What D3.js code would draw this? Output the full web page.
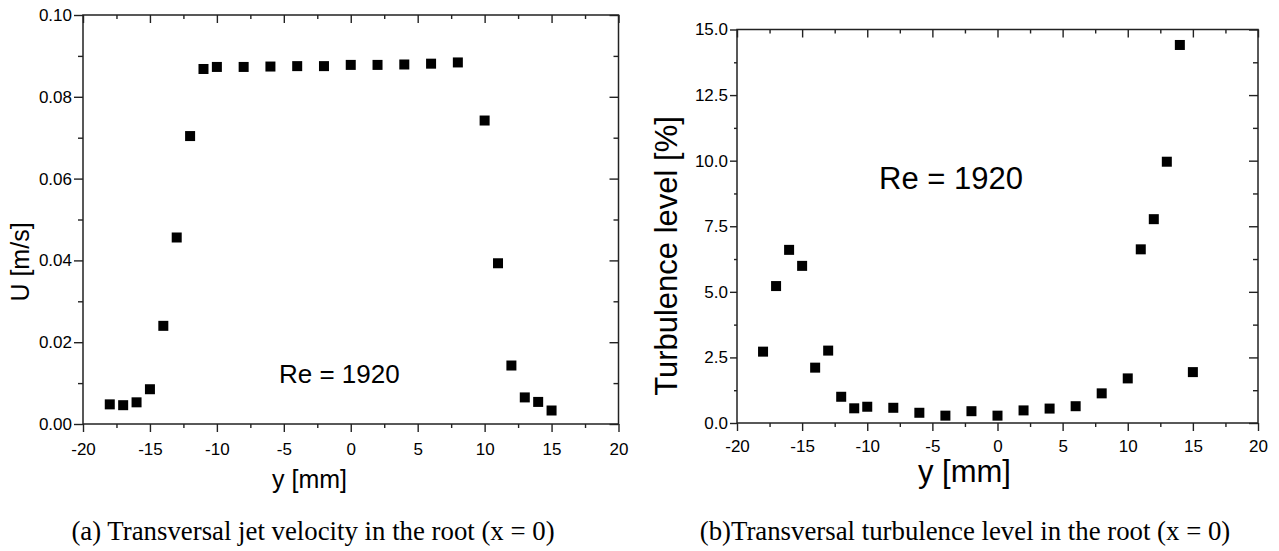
<!DOCTYPE html>
<html>
<head>
<meta charset="utf-8">
<script src="https://cdn.jsdelivr.net/npm/d3@7"></script>
<style>
  body { margin: 0; background: #fff; }
  svg { display: block; }
</style>
</head>
<body>
<script>
/* Transversal jet profiles at the root, Re = 1920 */

// Data
const velocityY = [-18, -17, -16, -15, -14, -13, -12, -11, -10, -8, -6, -4, -2, 0, 2, 4, 6, 8, 10, 11, 12, 13, 14, 15];
const velocityU = [0.0048, 0.0046, 0.0053, 0.0085, 0.024, 0.0456, 0.0704, 0.0868, 0.0873, 0.0873, 0.0874, 0.0875,
  0.0875, 0.0878, 0.0878, 0.0879, 0.0881, 0.0884, 0.0742, 0.0393, 0.0143, 0.0065, 0.0054, 0.0033];

const turbulenceY = [-18, -17, -16, -15, -14, -13, -12, -11, -10, -8, -6, -4, -2, 0, 2, 4, 6, 8, 10, 11, 12, 13, 14, 15];
const turbulenceLevel = [2.72, 5.22, 6.6, 5.99, 2.11, 2.76, 1.0, 0.56, 0.62, 0.58, 0.39, 0.28,
  0.45, 0.28, 0.48, 0.55, 0.64, 1.13, 1.7, 6.62, 7.77, 9.96, 14.41, 1.94];

// Tick values
const xTicks = [-20, -15, -10, -5, 0, 5, 10, 15, 20];
const xMinorTicks = [-17.5, -12.5, -7.5, -2.5, 2.5, 7.5, 12.5, 17.5];
const velocityTicks = [0, 0.02, 0.04, 0.06, 0.08, 0.1];
const velocityMinorTicks = [0.01, 0.03, 0.05, 0.07, 0.09];
const turbulenceTicks = [0, 2.5, 5, 7.5, 10, 12.5, 15];
const turbulenceMinorTicks = [1.25, 3.75, 6.25, 8.75, 11.25, 13.75];

const sans = '"Liberation Sans", Arial, sans-serif';
const serif = '"Liberation Serif", "Times New Roman", serif';

const svg = d3.select('body')
  .append('svg')
  .attr('width', 1279)
  .attr('height', 551);

svg.append('rect').attr('width', 1279).attr('height', 551).attr('fill', '#fff');

// Draws one framed scatter panel
function drawPanel(p) {
  const x = d3.scaleLinear().domain([-20, 20]).range([p.left, p.right]);
  const y = d3.scaleLinear().domain(p.yDomain).range([p.bottom, p.top]);
  const g = svg.append('g');

  const styleAxis = (sel, size) => {
    sel.select('.domain').remove();
    sel.attr('font-family', sans).attr('font-size', size);
    sel.selectAll('line').attr('stroke', '#222').attr('stroke-width', 1.4);
    sel.selectAll('text').attr('fill', '#000');
  };

  // bottom, outward ticks with labels (plain hyphen for minus)
  g.append('g')
    .attr('transform', `translate(0,${p.bottom})`)
    .call(d3.axisBottom(x).tickValues(xTicks).tickSize(8).tickPadding(p.xPad).tickFormat((d) => String(d)))
    .call(styleAxis, p.xFont);
  g.append('g')
    .attr('transform', `translate(0,${p.bottom})`)
    .call(d3.axisBottom(x).tickValues(xMinorTicks).tickSize(4).tickFormat(''))
    .call(styleAxis, p.xFont);

  // top, inward ticks
  g.append('g')
    .attr('transform', `translate(0,${p.top})`)
    .call(d3.axisTop(x).tickValues(xTicks).tickSize(-8).tickFormat(''))
    .call(styleAxis, p.xFont);
  g.append('g')
    .attr('transform', `translate(0,${p.top})`)
    .call(d3.axisTop(x).tickValues(xMinorTicks).tickSize(-4).tickFormat(''))
    .call(styleAxis, p.xFont);

  // left, outward ticks with labels
  g.append('g')
    .attr('transform', `translate(${p.left},0)`)
    .call(d3.axisLeft(y).tickValues(p.yTicks).tickSize(p.yTick).tickPadding(2).tickFormat(p.yFormat))
    .call(styleAxis, p.yFont);
  g.append('g')
    .attr('transform', `translate(${p.left},0)`)
    .call(d3.axisLeft(y).tickValues(p.yMinor).tickSize(p.yMinorTick).tickFormat(''))
    .call(styleAxis, p.yFont);

  // right, inward ticks
  g.append('g')
    .attr('transform', `translate(${p.right},0)`)
    .call(d3.axisRight(y).tickValues(p.yTicks).tickSize(-9).tickFormat(''))
    .call(styleAxis, p.yFont);
  g.append('g')
    .attr('transform', `translate(${p.right},0)`)
    .call(d3.axisRight(y).tickValues(p.yMinor).tickSize(-5).tickFormat(''))
    .call(styleAxis, p.yFont);

  // frame
  g.append('rect')
    .attr('x', p.left)
    .attr('y', p.top)
    .attr('width', p.right - p.left)
    .attr('height', p.bottom - p.top)
    .attr('fill', 'none')
    .attr('stroke', '#222')
    .attr('stroke-width', 1.5);

  // square markers
  g.selectAll('.pt')
    .data(p.xs.map((v, i) => [v, p.ys[i]]))
    .enter()
    .append('rect')
    .attr('class', 'pt')
    .attr('x', (d) => x(d[0]) - 5)
    .attr('y', (d) => y(d[1]) - 5)
    .attr('width', 10)
    .attr('height', 10)
    .attr('fill', '#000');

  // annotation
  g.append('text')
    .attr('x', p.re[0])
    .attr('y', p.re[1])
    .attr('font-family', sans)
    .attr('font-size', p.reFont)
    .text('Re = 1920');

  // axis titles
  g.append('text')
    .attr('x', p.xLabel[0])
    .attr('y', p.xLabel[1])
    .attr('font-family', sans)
    .attr('font-size', p.labelFont)
    .text('y [mm]');

  g.append('text')
    .attr('transform', `translate(${p.yLabel[0]},${p.yLabel[1]}) rotate(-90)`)
    .attr('text-anchor', 'middle')
    .attr('font-family', sans)
    .attr('font-size', p.labelFont)
    .text(p.yTitle);

  // caption
  g.append('text')
    .attr('x', p.caption[0])
    .attr('y', p.caption[1])
    .attr('text-anchor', 'middle')
    .attr('font-family', serif)
    .attr('font-size', 26.8)
    .text(p.captionText);
}

// (a) velocity
drawPanel({
  left: 83, right: 618.5, top: 15, bottom: 424,
  yDomain: [0, 0.1], yTicks: velocityTicks, yMinor: velocityMinorTicks,
  yFormat: d3.format('.2f'), yTick: 9, yMinorTick: 5,
  xs: velocityY, ys: velocityU,
  xFont: 17, yFont: 17, xPad: 11,
  re: [279, 383], reFont: 26,
  labelFont: 25, xLabel: [272, 488], yLabel: [29, 262], yTitle: 'U [m/s]',
  caption: [313, 540], captionText: '(a) Transversal jet velocity in the root (x = 0)'
});

// (b) turbulence
drawPanel({
  left: 737, right: 1258, top: 29.5, bottom: 423,
  yDomain: [0, 15], yTicks: turbulenceTicks, yMinor: turbulenceMinorTicks,
  yFormat: d3.format('.1f'), yTick: 7, yMinorTick: 3,
  xs: turbulenceY, ys: turbulenceLevel,
  xFont: 17, yFont: 17, xPad: 9,
  re: [879, 189], reFont: 31,
  labelFont: 31, xLabel: [918, 482], yLabel: [677, 256], yTitle: 'Turbulence level [%]',
  caption: [965, 540], captionText: '(b)Transversal turbulence level in the root (x = 0)'
});
</script>
</body>
</html>
